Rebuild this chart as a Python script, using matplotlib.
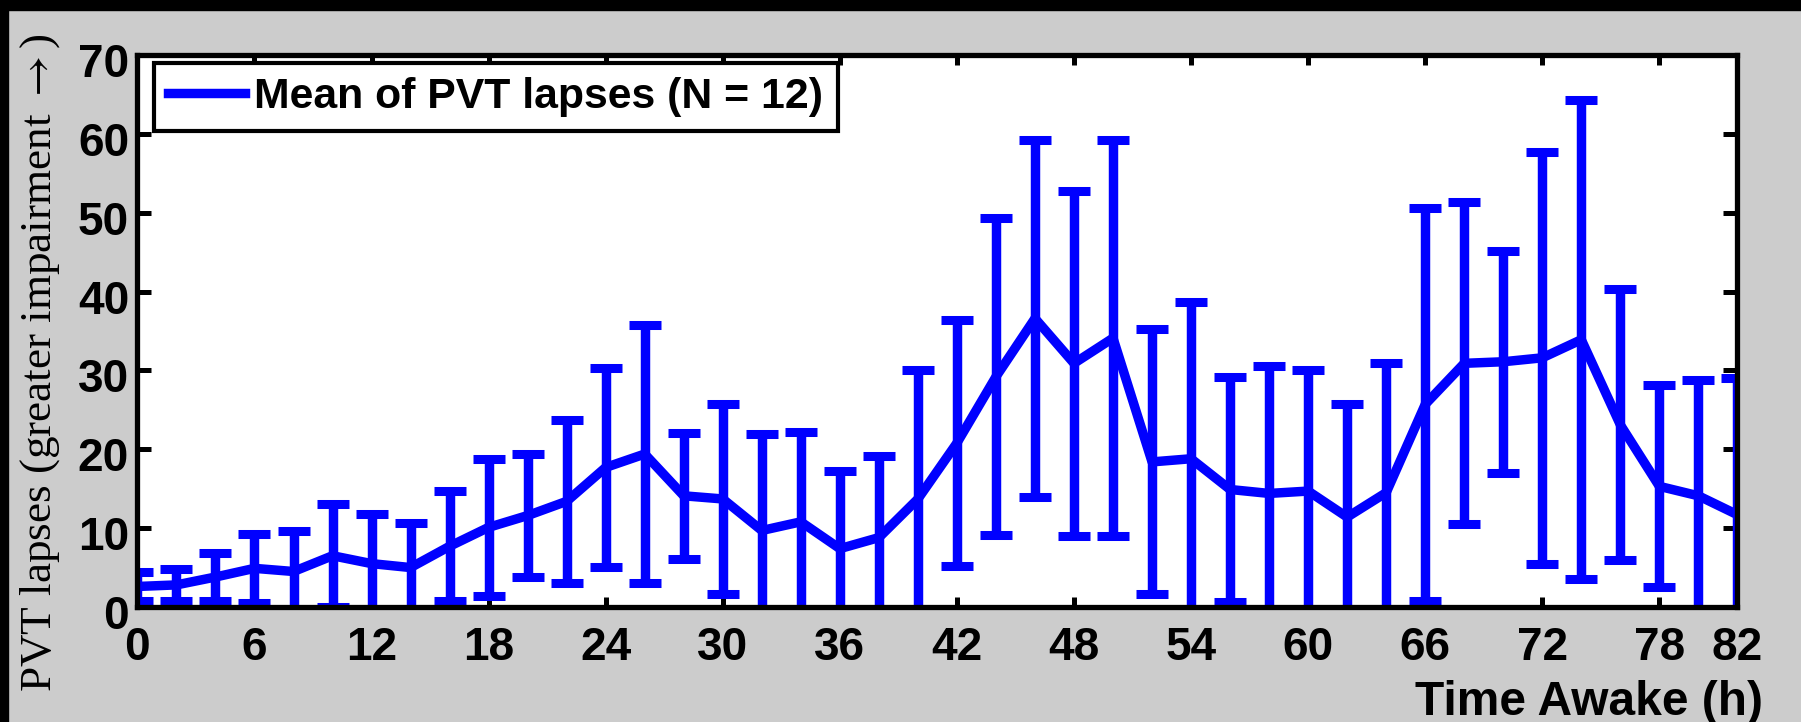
import matplotlib
matplotlib.use("Agg")
import matplotlib.pyplot as plt
import matplotlib.transforms as mtransforms
from matplotlib.lines import Line2D
from matplotlib.patches import Rectangle

# PVT lapses every 2 hours of time awake
hours = [0, 2, 4, 6, 8, 10, 12, 14, 16, 18, 20, 22, 24, 26, 28, 30, 32, 34, 36, 38, 40,
         42, 44, 46, 48, 50, 52, 54, 56, 58, 60, 62, 64, 66, 68, 70, 72, 74, 76, 78, 80, 82]
mean_lapses = [2.6, 2.8, 3.8, 4.9, 4.5, 6.5, 5.5, 5.0, 7.7, 10.1, 11.6, 13.4, 17.7, 19.4,
               14.1, 13.7, 9.7, 10.8, 7.4, 8.8, 13.7, 20.8, 29.2, 36.6, 30.9, 34.1, 18.4,
               18.8, 14.9, 14.4, 14.7, 11.4, 14.5, 25.7, 30.9, 31.1, 31.6, 33.9, 23.1,
               15.3, 14.1, 11.7]
err_lapses = [1.9, 2.0, 3.1, 4.4, 5.1, 6.5, 6.3, 5.7, 7.0, 8.7, 7.8, 10.3, 12.6, 16.3,
              8.0, 12.1, 12.3, 11.4, 9.9, 10.4, 16.3, 15.6, 20.1, 22.6, 21.9, 25.1, 16.8,
              19.9, 14.3, 16.2, 15.4, 14.3, 16.5, 24.9, 20.4, 14.1, 26.1, 30.4, 17.2,
              12.8, 14.7, 17.4]

xticks = [0, 6, 12, 18, 24, 30, 36, 42, 48, 54, 60, 66, 72, 78, 82]
yticks = [0, 10, 20, 30, 40, 50, 60, 70]

sans = "Liberation Sans"
serif = "Liberation Serif"
plt.rcParams["mathtext.fontset"] = "stix"

fig = plt.figure(figsize=(18.01, 7.22), dpi=100, facecolor="#cccccc")
ax = fig.add_axes([0.0763, 0.1593, 0.8884, 0.7645])

ax.errorbar(hours, mean_lapses, yerr=err_lapses, color="blue", linewidth=6.8,
            elinewidth=6.8, capsize=11.5, capthick=6.5)

ax.set_xlim(0, 82)
ax.set_ylim(0, 70)
ax.set_xticks(xticks)
ax.set_yticks(yticks)

for s in ax.spines.values():
    s.set_linewidth(3.8)
ax.tick_params(axis="both", direction="in", width=3.6, top=True, right=True)
ax.tick_params(axis="x", length=7.5, pad=14)
ax.tick_params(axis="y", length=10, pad=6)

for lab in ax.get_xticklabels() + ax.get_yticklabels():
    lab.set_fontfamily(sans)
    lab.set_fontweight("bold")
    lab.set_fontsize(33)

# y labels sit a little below their ticks
shift = mtransforms.ScaledTranslation(0, -5 / 100, fig.dpi_scale_trans)
for lab in ax.get_yticklabels():
    lab.set_transform(lab.get_transform() + shift)

# legend shows only the plain line
handle = Line2D([], [], color="blue", linewidth=6.8)
leg = ax.legend([handle], ["Mean of PVT lapses (N = 12)"], loc="upper left",
                bbox_to_anchor=(0.0103, 0.9855), borderaxespad=0,
                fancybox=False, framealpha=1, edgecolor="black",
                prop={"family": sans, "weight": "bold", "size": 30.8},
                handlelength=1.8, handletextpad=0.22, borderpad=0.33)
leg.get_frame().set_linewidth(3.0)

fig.text(1763 / 1801, 1 - 715 / 722, "Time Awake (h)", ha="right", va="baseline",
         fontfamily=sans, fontweight="bold", fontsize=34.5)
fig.text(40 / 1801, 1 - 363 / 722, r"PVT lapses (greater impairment $\rightarrow$)",
         rotation=90, ha="center", va="center", fontfamily=serif, fontsize=32.5)

# dark edge along the top and left of the figure
fig.patches.append(Rectangle((0, 1 - 10 / 722), 1, 10 / 722, transform=fig.transFigure,
                             color="black", zorder=10))
fig.patches.append(Rectangle((0, 0), 8 / 1801, 1, transform=fig.transFigure,
                             color="black", zorder=10))

fig.savefig("out.png", dpi=100, facecolor=fig.get_facecolor())
